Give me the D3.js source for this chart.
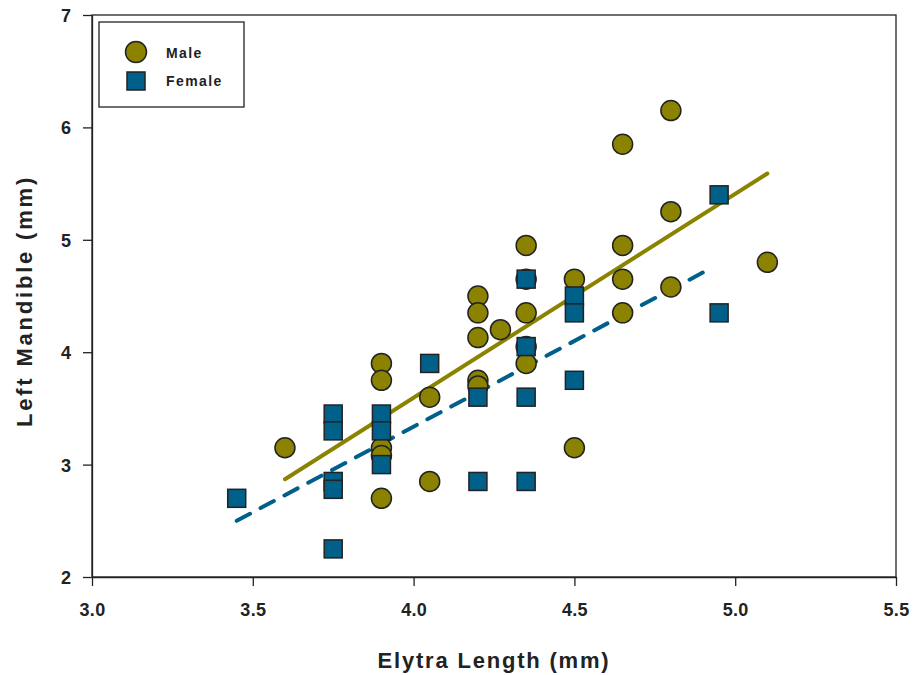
<!DOCTYPE html>
<html><head><meta charset="utf-8">
<script src="https://cdn.jsdelivr.net/npm/d3@7"></script>
<style>body{margin:0;background:#fff}svg{display:block}text{font-family:"Liberation Sans",Arial,sans-serif}</style>
</head><body>
<script>
const maleX = [3.6,3.9,3.9,3.9,3.9,3.9,4.05,4.05,4.2,4.2,4.2,4.2,4.2,4.27,4.35,4.35,4.35,4.35,4.35,4.5,4.5,4.65,4.65,4.65,4.65,4.8,4.8,4.8,5.1];
const maleY = [3.15,3.9,3.75,3.15,3.08,2.7,3.6,2.85,4.5,4.35,4.13,3.75,3.7,4.2,4.95,4.65,4.35,4.05,3.9,4.65,3.15,5.85,4.95,4.65,4.35,6.15,5.25,4.58,4.8];
const femaleX = [3.45,3.75,3.75,3.75,3.75,3.75,3.9,3.9,3.9,4.05,4.2,4.2,4.35,4.35,4.35,4.35,4.5,4.5,4.5,4.95,4.95];
const femaleY = [2.7,3.45,3.3,2.85,2.78,2.25,3.45,3.3,3.0,3.9,3.6,2.85,4.65,4.05,3.6,2.85,4.5,4.35,3.75,5.4,4.35];
const maleFit = [[3.6,2.87],[5.1,5.59]];
const femaleFit = [[3.45,2.5],[4.92,4.74]];
const xTicks = [3.0,3.5,4.0,4.5,5.0,5.5];
const yTicks = [2,3,4,5,6,7];
const seriesNames = ["Male","Female"];

const W=916,H=675, L=92,R=896,T=15,B=577;
const olive="#8b8300", blue="#00608a", edge="#222";
const svg=d3.select("body").append("svg").attr("width",W).attr("height",H);
const x=d3.scaleLinear().domain([3,5.5]).range([L,R]);
const y=d3.scaleLinear().domain([2,7]).range([B,T]);

svg.append("rect").attr("x",L).attr("y",T).attr("width",R-L).attr("height",B-T).attr("fill","none").attr("stroke","#222").attr("stroke-width",1.3);

const xa=svg.append("g").attr("transform",`translate(0,${B})`).call(d3.axisBottom(x).tickValues(xTicks).tickFormat(d3.format(".1f")).tickSize(9).tickSizeOuter(0));
const ya=svg.append("g").attr("transform",`translate(${L},0)`).call(d3.axisLeft(y).tickValues(yTicks).tickFormat(d3.format("d")).tickSize(9).tickSizeOuter(0));
[xa,ya].forEach(a=>{a.attr("font-size",null);a.select(".domain").attr("stroke","#222").attr("stroke-width",1.3);a.selectAll(".tick line").attr("stroke","#222").attr("stroke-width",1.3);a.selectAll("text").style("font-size","18px").style("font-weight","bold").attr("fill","#222").style("font-family","'Liberation Sans',Arial,sans-serif");});
xa.selectAll("text").attr("dy","0").attr("y",39).attr("letter-spacing","0.3");
ya.selectAll("text").attr("x",-21).attr("dy","0.36em");

svg.append("text").attr("x",(L+R)/2).attr("y",668).attr("text-anchor","middle").style("font-size","22px").style("font-weight","bold").attr("fill","#222").attr("letter-spacing","1.8").text("Elytra Length (mm)");
svg.append("text").attr("transform",`translate(32,${(T+B)/2+5}) rotate(-90)`).attr("text-anchor","middle").style("font-size","22px").style("font-weight","bold").attr("fill","#222").attr("letter-spacing","2.8").text("Left Mandible (mm)");

const line=d3.line().x(d=>x(d[0])).y(d=>y(d[1]));
svg.append("path").attr("d",line(maleFit)).attr("stroke",olive).attr("stroke-width",4).attr("fill","none").attr("stroke-linecap","round");
svg.append("path").attr("d",line(femaleFit)).attr("stroke",blue).attr("stroke-width",4).attr("fill","none").attr("stroke-dasharray","15,12").attr("stroke-linecap","round");

const males=maleX.map((v,i)=>[v,maleY[i]]);
const females=femaleX.map((v,i)=>[v,femaleY[i]]);
svg.append("g").selectAll("circle").data(males).join("circle").attr("cx",d=>x(d[0])).attr("cy",d=>y(d[1])).attr("r",10).attr("fill",olive).attr("stroke",edge).attr("stroke-width",1.5);
svg.append("g").selectAll("rect").data(females).join("rect").attr("x",d=>x(d[0])-9).attr("y",d=>y(d[1])-9).attr("width",18).attr("height",18).attr("fill",blue).attr("stroke",edge).attr("stroke-width",1.5);

const lg=svg.append("g");
lg.append("rect").attr("x",99).attr("y",22).attr("width",145).attr("height",85).attr("fill","#fff").attr("stroke","#222").attr("stroke-width",1.3);
lg.append("circle").attr("cx",136).attr("cy",52).attr("r",10.5).attr("fill",olive).attr("stroke",edge).attr("stroke-width",1.5);
lg.append("rect").attr("x",127).attr("y",72).attr("width",18).attr("height",18).attr("fill",blue).attr("stroke",edge).attr("stroke-width",1.5);
lg.selectAll("text.l").data(seriesNames).join("text").attr("x",166).attr("y",(d,i)=>58+i*28).style("font-size","14px").style("font-weight","bold").attr("fill","#222").attr("letter-spacing","1.4").text(d=>d);
</script>
</body></html>
